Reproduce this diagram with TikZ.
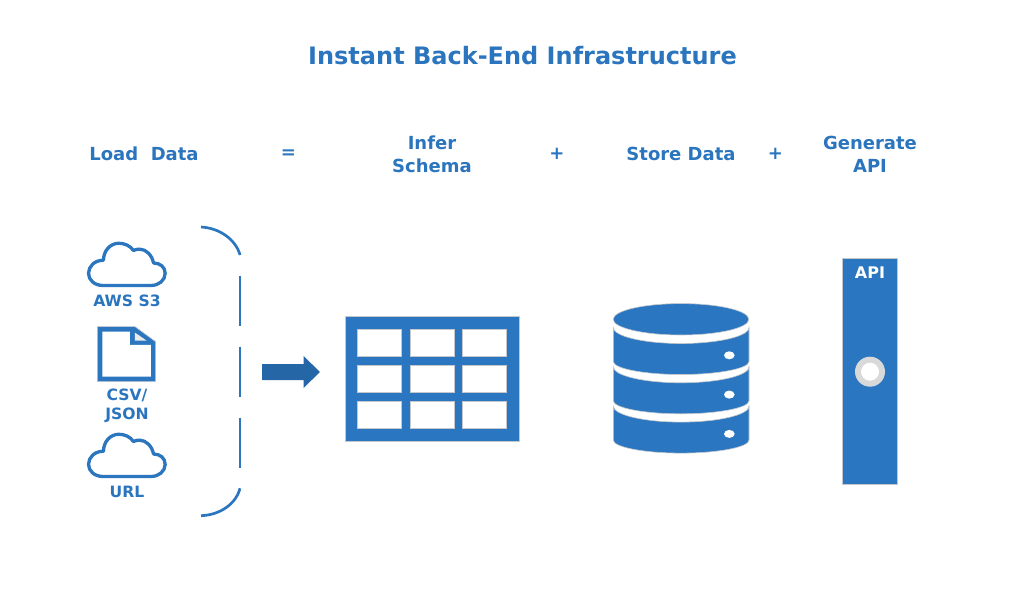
\documentclass[tikz,border=0pt]{standalone}
\usepackage{fontspec}
\setmainfont{DejaVu Sans}
\definecolor{bluefill}{HTML}{2A76C0}
\definecolor{bluetext}{HTML}{2A75BE}
\definecolor{blueline}{HTML}{2B76BE}
\definecolor{bluedark}{HTML}{2566A6}
\definecolor{halo}{HTML}{C4C8CC}
\definecolor{ring}{HTML}{D9D9D9}
\tikzset{
  x=1pt,y=-1pt,
  titlelabel/.style={text=bluetext,font=\bfseries\fontsize{24}{28}\selectfont,inner sep=0pt},
  headlabel/.style={text=bluetext,font=\bfseries\fontsize{18}{23}\selectfont,align=center,inner sep=0pt},
  srclabel/.style={text=bluetext,font=\bfseries\fontsize{15.6}{19}\selectfont,align=center,inner sep=0pt},
  apilabel/.style={text=white,font=\bfseries\fontsize{16}{18}\selectfont,inner sep=0pt},
  bracketline/.style={draw=blueline,line width=2.7pt},
  cloudline/.style={draw=blueline,line width=3.3pt,line join=round},
  solidblue/.style={fill=bluefill,draw=halo,line width=.6pt},
  tablecell/.style={fill=white,draw=halo,line width=.8pt},
  dbdot/.style={fill=white},
}
\newcommand{\cloudpath}[2]{%
  \begin{scope}[shift={(#1,#2)},x=.3333pt,y=-.346pt]
    \draw[cloudline] (70,145) -- (215,145)
      .. controls (238,145) and (257,130) .. (257,110)
      .. controls (257,92) and (242,80) .. (222,80)
      .. controls (218,58) and (200,40) .. (180,40)
      .. controls (173,40) and (168,41) .. (162,44)
      .. controls (152,30) and (135,23) .. (118,23)
      .. controls (92,23) and (72,45) .. (72,72)
      .. controls (45,72) and (27,90) .. (27,110)
      .. controls (27,130) and (46,145) .. (70,145) -- cycle;
  \end{scope}}
\begin{document}
\begin{tikzpicture}
\useasboundingbox (0,0) rectangle (1033,612);
% texts
\node[titlelabel] (title) at (522.5,55.5) {Instant Back-End Infrastructure};
\node[headlabel] (load) at (144,153.5) {Load\ \ Data};
\node[headlabel] (eq) at (288.5,154) {=};
\node[headlabel] (infer) at (432,154) {Infer\\Schema};
\node[headlabel] (plusa) at (557,153.5) {+};
\node[headlabel] (store) at (681,153.5) {Store Data};
\node[headlabel] (plusb) at (775.5,153.5) {+};
\node[headlabel] (gen) at (870,154) {Generate\\API};
% sources
\cloudpath{79.5}{235.3}
\cloudpath{79.5}{426.3}
\node[srclabel] (aws) at (127,300.7) {AWS S3};
\node[srclabel] (csv) at (127,405.5) {CSV/\\JSON};
\node[srclabel] (url) at (127,491.7) {URL};
% document icon
\begin{scope}[shift={(70,220)},x=.3333pt,y=-.3333pt]
  \filldraw[fill=blueline,draw=halo,line width=.6pt] (82,320) -- (195,320) -- (257,365) -- (257,485) -- (82,485) -- cycle;
  \fill[white] (97,335) -- (180,335) -- (180,375) -- (243,375) -- (243,470) -- (97,470) -- cycle;
  \fill[white!92!black] (195,338) -- (195,362) -- (230,362) -- cycle;
\end{scope}
% bracket
\draw[bracketline] (201,227) .. controls (220,228) and (236,240) .. (240,255);
\draw[bracketline] (240,275.7) -- (240,325.7);
\draw[bracketline] (240,346.7) -- (240,396.7);
\draw[bracketline] (240,417.7) -- (240,467.7);
\draw[bracketline] (240,488.3) .. controls (236,504) and (220,515) .. (201,515.7);
% block arrow
\fill[bluedark] (262,364) -- (303.5,364) -- (303.5,356) -- (320,372) -- (303.5,388) -- (303.5,380) -- (262,380) -- cycle;
% table
\fill[solidblue] (345,316.7) rectangle (519.3,441);
\foreach \xa/\xb in {357.7/401.7,410.3/454.3,462.3/506.7}
  \foreach \ya/\yb in {329.3/356.7,365.3/392.3,401/428.3}
    \filldraw[tablecell] (\xa,\ya) rectangle (\xb,\yb);
% database
\filldraw[solidblue] (681,319.3) ellipse [x radius=67.8,y radius=15.7];
\foreach \dy in {0,39.3,78.6}{
  \begin{scope}[yshift=-\dy pt]
    \filldraw[solidblue] (613.3,327.5) .. controls (613.3,336.3) and (643.7,343.5) .. (681,343.5)
      .. controls (718.3,343.5) and (749,336.3) .. (749,327.5)
      -- (749,361.5) .. controls (749,368.5) and (718.3,374.5) .. (681,374.5)
      .. controls (643.7,374.5) and (613.3,368.5) .. (613.3,361.5) -- cycle;
    \fill[dbdot] (729.3,355.3) ellipse [x radius=5.3,y radius=4];
  \end{scope}}
% api bar
\fill[solidblue] (842.7,258.7) rectangle (897.3,484.3);
\node[apilabel] (api) at (870,272.3) {API};
\fill[ring] (870,371.7) circle [radius=15];
\fill[white] (870,371.7) circle [radius=9];
\end{tikzpicture}
\end{document}
